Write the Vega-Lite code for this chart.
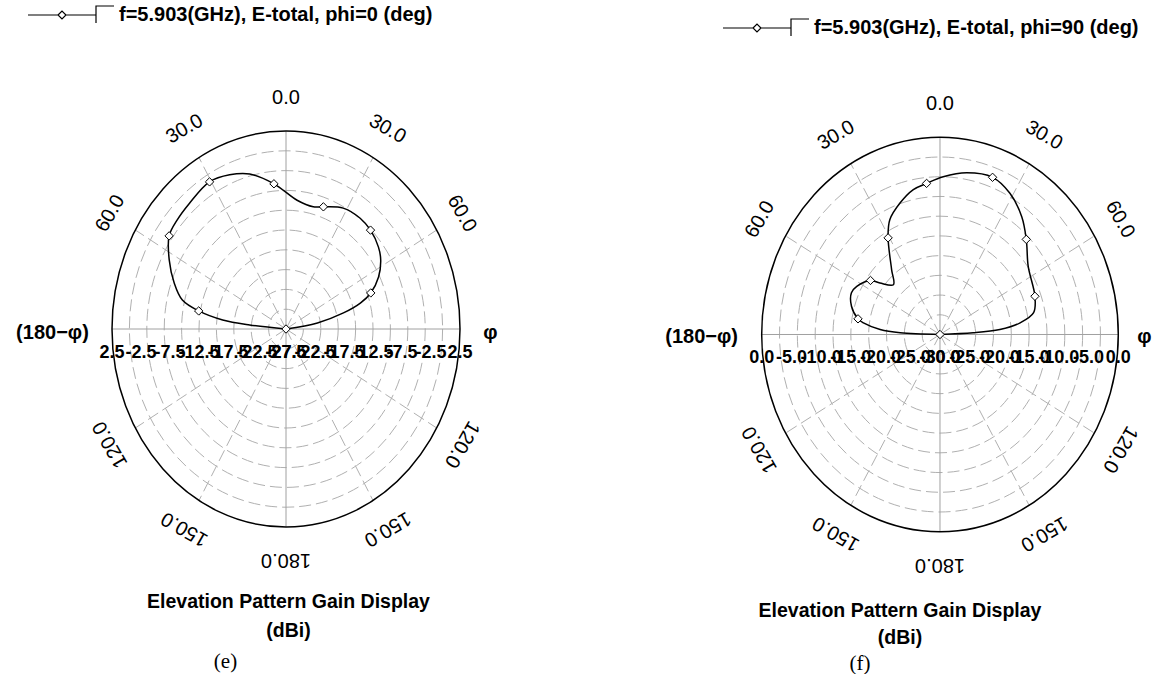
{
  "$schema": "https://vega.github.io/schema/vega-lite/v6.json",
  "padding": 0,
  "spacing": 0,
  "background": "white",
  "config": {"view": {"stroke": null}, "font": "Liberation Sans"},
  "resolve": {"scale": {"color": "independent", "size": "independent"}, "legend": {"color": "independent"}},
  "datasets": {
    "rings": [{"r": 3}, {"r": 6}, {"r": 9}, {"r": 12}, {"r": 15}, {"r": 18}, {"r": 21}, {"r": 24}, {"r": 27}],
    "outer": [{"r": 30}],
    "spokes": [{"a": 30}, {"a": 60}, {"a": 120}, {"a": 150}, {"a": 210}, {"a": 240}, {"a": 300}, {"a": 330}],
    "mainaxes": [{"a": 0}, {"a": 90}, {"a": 180}, {"a": 270}],
    "angles": [{"a": 0, "t": "0.0"}, {"a": 30, "t": "30.0"}, {"a": 60, "t": "60.0"}, {"a": 120, "t": "120.0"}, {"a": 150, "t": "150.0"}, {"a": 180, "t": "180.0"}, {"a": 210, "t": "150.0"}, {"a": 240, "t": "120.0"}, {"a": 300, "t": "60.0"}, {"a": 330, "t": "30.0"}],
    "phiRight": [{"t": "φ", "px": 34}],
    "phiLeft": [{"t": "(180−φ)", "px": -34}],
    "labelsE": [{"v": 2.5, "t": "2.5"}, {"v": -2.5, "t": "-2.5"}, {"v": -7.5, "t": "-7.5"}, {"v": -12.5, "t": "-12.5"}, {"v": -17.5, "t": "-17.5"}, {"v": -22.5, "t": "-22.5"}, {"v": -27.5, "t": "-27.5"}],
    "labelsF": [{"v": 0, "t": "0.0"}, {"v": -5, "t": "-5.0"}, {"v": -10, "t": "-10.0"}, {"v": -15, "t": "-15.0"}, {"v": -20, "t": "-20.0"}, {"v": -25, "t": "-25.0"}, {"v": -30, "t": "-30.0"}],
    "curveE": [
      {"angle": -90, "gain": -27.5}, {"angle": -84.4, "gain": -21.2}, {"angle": -82.9, "gain": -16.5}, {"angle": -79.7, "gain": -12.2},
      {"angle": -76.2, "gain": -9.1}, {"angle": -70.1, "gain": -7.0}, {"angle": -62.5, "gain": -4.8}, {"angle": -55.0, "gain": -2.9},
      {"angle": -48.6, "gain": -2.5}, {"angle": -41.1, "gain": -2.2}, {"angle": -30.6, "gain": -1.6}, {"angle": -22.6, "gain": -2.2},
      {"angle": -14.9, "gain": -3.2}, {"angle": -5.4, "gain": -5.4}, {"angle": 5.6, "gain": -7.9}, {"angle": 14.2, "gain": -8.4},
      {"angle": 19.2, "gain": -7.9}, {"angle": 28.3, "gain": -6.7}, {"angle": 37.3, "gain": -6.4}, {"angle": 44.2, "gain": -6.6},
      {"angle": 52.1, "gain": -7.3}, {"angle": 57.3, "gain": -8.1}, {"angle": 63.7, "gain": -9.7}, {"angle": 69.5, "gain": -11.9},
      {"angle": 73.0, "gain": -14.1}, {"angle": 76.2, "gain": -17.3}, {"angle": 80.4, "gain": -22.0}, {"angle": 90, "gain": -27.5}
    ],
    "markersE": [
      {"angle": -79.7, "gain": -12.2}, {"angle": -55.0, "gain": -2.9}, {"angle": -30.6, "gain": -1.6}, {"angle": -5.4, "gain": -5.4},
      {"angle": 19.2, "gain": -7.9}, {"angle": 44.2, "gain": -6.6}, {"angle": 69.5, "gain": -11.9}, {"angle": 95, "gain": -27.5}
    ],
    "curveF": [
      {"angle": -90, "gain": -30}, {"angle": -87.8, "gain": -23.3}, {"angle": -85.7, "gain": -19.9}, {"angle": -82.2, "gain": -17.0},
      {"angle": -80.2, "gain": -16.0}, {"angle": -73.9, "gain": -14.5}, {"angle": -66.9, "gain": -13.8}, {"angle": -62.4, "gain": -14.2},
      {"angle": -54.9, "gain": -15.7}, {"angle": -52.2, "gain": -17.2}, {"angle": -46.0, "gain": -19.1}, {"angle": -39.5, "gain": -17.2},
      {"angle": -30.7, "gain": -12.9}, {"angle": -25.8, "gain": -10.6}, {"angle": -18.6, "gain": -8.9}, {"angle": -11.5, "gain": -7.5},
      {"angle": -5.6, "gain": -6.9}, {"angle": 1.3, "gain": -6.0}, {"angle": 10.4, "gain": -5.0}, {"angle": 20.3, "gain": -4.5},
      {"angle": 28.7, "gain": -5.5}, {"angle": 37.5, "gain": -7.4}, {"angle": 45.1, "gain": -9.5}, {"angle": 55.1, "gain": -11.9},
      {"angle": 70.0, "gain": -13.0}, {"angle": 78.1, "gain": -13.9}, {"angle": 82.5, "gain": -16.4}, {"angle": 85.7, "gain": -19.9},
      {"angle": 87.4, "gain": -24.4}, {"angle": 90, "gain": -30}
    ],
    "markersF": [
      {"angle": -80.2, "gain": -16.0}, {"angle": -54.9, "gain": -15.7}, {"angle": -30.7, "gain": -12.9}, {"angle": -5.6, "gain": -6.9},
      {"angle": 20.3, "gain": -4.5}, {"angle": 45.1, "gain": -9.5}, {"angle": 70.0, "gain": -13.0}, {"angle": 95, "gain": -30}
    ]
  },
  "hconcat": [
    {
      "title": {"text": "(e)", "orient": "bottom", "anchor": "middle", "dx": -63, "offset": 10, "font": "Liberation Serif", "fontSize": 21, "fontWeight": "normal", "color": "black"},
      "vconcat": [
        {
          "width": 577,
          "height": 580,
          "title": {"text": ["Elevation Pattern Gain Display", "(dBi)"], "orient": "bottom", "anchor": "middle", "offset": 13, "font": "Liberation Sans", "fontSize": 19.5, "fontWeight": "bold", "lineHeight": 29, "color": "black"},
          "layer": [
            {
              "data": {"name": "rings"},
              "transform": [{"calculate": "0*datum.r", "as": "cx"}],
              "mark": {"type": "point", "shape": "M 1 0 C 1 0.6285 0.5523 1.1379 0 1.1379 C -0.5523 1.1379 -1 0.6285 -1 0 C -1 -0.6285 -0.5523 -1.1379 0 -1.1379 C 0.5523 -1.1379 1 -0.6285 1 0 Z", "filled": false, "color": "#b0b0b0", "strokeWidth": 1, "strokeDash": [12, 5], "opacity": 1},
              "encoding": {
                "x": {"field": "cx", "type": "quantitative", "scale": {"domain": [-49.31, 50.17], "nice": false, "zero": false}, "axis": null},
                "y": {"field": "cx", "type": "quantitative", "scale": {"domain": [-38.03, 49.85], "nice": false, "zero": false}, "axis": null},
                "size": {"field": "r", "type": "quantitative", "scale": {"type": "pow", "exponent": 2, "domain": [0, 30], "range": [0, 121104]}, "legend": null}
              }
            },
            {
              "data": {"name": "spokes"},
              "transform": [{"calculate": "0*datum.a", "as": "cx"}, {"calculate": "30*sin(datum.a*PI/180)", "as": "ex"}, {"calculate": "30*cos(datum.a*PI/180)", "as": "ey"}],
              "mark": {"type": "rule", "color": "#b0b0b0", "strokeWidth": 1, "strokeDash": [12, 5]},
              "encoding": {
                "x": {"field": "cx", "type": "quantitative", "scale": {"domain": [-49.31, 50.17], "nice": false, "zero": false}, "axis": null},
                "y": {"field": "cx", "type": "quantitative", "scale": {"domain": [-38.03, 49.85], "nice": false, "zero": false}, "axis": null},
                "x2": {"field": "ex"}, "y2": {"field": "ey"}
              }
            },
            {
              "data": {"name": "mainaxes"},
              "transform": [{"calculate": "0*datum.a", "as": "cx"}, {"calculate": "30*sin(datum.a*PI/180)", "as": "ex"}, {"calculate": "30*cos(datum.a*PI/180)", "as": "ey"}],
              "mark": {"type": "rule", "color": "#a0a0a0", "strokeWidth": 1},
              "encoding": {
                "x": {"field": "cx", "type": "quantitative", "scale": {"domain": [-49.31, 50.17], "nice": false, "zero": false}, "axis": null},
                "y": {"field": "cx", "type": "quantitative", "scale": {"domain": [-38.03, 49.85], "nice": false, "zero": false}, "axis": null},
                "x2": {"field": "ex"}, "y2": {"field": "ey"}
              }
            },
            {
              "data": {"name": "outer"},
              "transform": [{"calculate": "0*datum.r", "as": "cx"}],
              "mark": {"type": "point", "shape": "M 1 0 C 1 0.6285 0.5523 1.1379 0 1.1379 C -0.5523 1.1379 -1 0.6285 -1 0 C -1 -0.6285 -0.5523 -1.1379 0 -1.1379 C 0.5523 -1.1379 1 -0.6285 1 0 Z", "filled": false, "color": "black", "strokeWidth": 1.5, "opacity": 1},
              "encoding": {
                "x": {"field": "cx", "type": "quantitative", "scale": {"domain": [-49.31, 50.17], "nice": false, "zero": false}, "axis": null},
                "y": {"field": "cx", "type": "quantitative", "scale": {"domain": [-38.03, 49.85], "nice": false, "zero": false}, "axis": null},
                "size": {"field": "r", "type": "quantitative", "scale": {"type": "pow", "exponent": 2, "domain": [0, 30], "range": [0, 121104]}, "legend": null}
              }
            },
            {
              "data": {"name": "curveE"},
              "transform": [{"calculate": "max(0, datum.gain + 27.5)", "as": "rr"}, {"calculate": "datum.rr*sin(datum.angle*PI/180)", "as": "px"}, {"calculate": "datum.rr*cos(datum.angle*PI/180)", "as": "py"}, {"calculate": "'f=5.903(GHz), E-total, phi=0 (deg)'", "as": "series"}],
              "mark": {"type": "line", "interpolate": "catmull-rom", "strokeWidth": 1.5},
              "encoding": {
                "x": {"field": "px", "type": "quantitative", "scale": {"domain": [-49.31, 50.17], "nice": false, "zero": false}, "axis": null},
                "y": {"field": "py", "type": "quantitative", "scale": {"domain": [-38.03, 49.85], "nice": false, "zero": false}, "axis": null},
                "order": {"field": "angle", "type": "quantitative"},
                "color": {"field": "series", "type": "nominal", "scale": {"range": ["black"]},
                  "legend": {"orient": "none", "legendX": 97, "legendY": 5, "title": null, "padding": 0,
                    "symbolType": "M -79 0 L -49 0 M -41 0 L -11 0 M -49 0 L -45 -4 L -41 0 L -45 4 Z M -11 8 L -11 -9 L 7 -9",
                    "symbolSize": 4, "symbolStrokeWidth": 1.2, "symbolStrokeColor": "black", "symbolFillColor": "white",
                    "labelFont": "Liberation Sans", "labelFontWeight": "bold", "labelFontSize": 20, "labelColor": "black", "labelOffset": 2, "labelLimit": 700}}
              }
            },
            {
              "data": {"name": "markersE"},
              "transform": [{"calculate": "max(0, datum.gain + 27.5)", "as": "rr"}, {"calculate": "datum.rr*sin(datum.angle*PI/180)", "as": "px"}, {"calculate": "datum.rr*cos(datum.angle*PI/180)", "as": "py"}],
              "mark": {"type": "point", "shape": "diamond", "filled": true, "fill": "white", "stroke": "black", "strokeWidth": 1, "size": 70, "opacity": 1},
              "encoding": {
                "x": {"field": "px", "type": "quantitative", "scale": {"domain": [-49.31, 50.17], "nice": false, "zero": false}, "axis": null},
                "y": {"field": "py", "type": "quantitative", "scale": {"domain": [-38.03, 49.85], "nice": false, "zero": false}, "axis": null}
              }
            },
            {
              "data": {"name": "labelsE"},
              "transform": [{"calculate": "-(datum.v + 27.5)", "as": "lx"}, {"calculate": "0*datum.v", "as": "cy"}],
              "mark": {"type": "text", "font": "Liberation Sans", "fontWeight": "bold", "fontSize": 18, "align": "center", "baseline": "middle", "dy": 24, "color": "black"},
              "encoding": {
                "x": {"field": "lx", "type": "quantitative", "scale": {"domain": [-49.31, 50.17], "nice": false, "zero": false}, "axis": null},
                "y": {"field": "cy", "type": "quantitative", "scale": {"domain": [-38.03, 49.85], "nice": false, "zero": false}, "axis": null},
                "text": {"field": "t", "type": "nominal"}
              }
            },
            {
              "data": {"name": "labelsE"},
              "transform": [{"calculate": "datum.v + 27.5", "as": "lx"}, {"calculate": "0*datum.v", "as": "cy"}],
              "mark": {"type": "text", "font": "Liberation Sans", "fontWeight": "bold", "fontSize": 18, "align": "center", "baseline": "middle", "dy": 24, "color": "black"},
              "encoding": {
                "x": {"field": "lx", "type": "quantitative", "scale": {"domain": [-49.31, 50.17], "nice": false, "zero": false}, "axis": null},
                "y": {"field": "cy", "type": "quantitative", "scale": {"domain": [-38.03, 49.85], "nice": false, "zero": false}, "axis": null},
                "text": {"field": "t", "type": "nominal"}
              }
            },
            {
              "data": {"name": "angles"},
              "transform": [{"calculate": "35*sin(datum.a*PI/180)", "as": "lx"}, {"calculate": "35*cos(datum.a*PI/180)", "as": "ly"}],
              "mark": {"type": "text", "font": "Liberation Sans", "fontSize": 20, "align": "center", "baseline": "middle", "color": "black"},
              "encoding": {
                "x": {"field": "lx", "type": "quantitative", "scale": {"domain": [-49.31, 50.17], "nice": false, "zero": false}, "axis": null},
                "y": {"field": "ly", "type": "quantitative", "scale": {"domain": [-38.03, 49.85], "nice": false, "zero": false}, "axis": null},
                "angle": {"field": "a", "type": "quantitative", "scale": {"domain": [0, 360], "range": [0, 360], "zero": false, "nice": false}, "legend": null},
                "text": {"field": "t", "type": "nominal"}
              }
            },
            {
              "data": {"name": "phiRight"},
              "transform": [{"calculate": "0*datum.px", "as": "cy"}],
              "mark": {"type": "text", "font": "Liberation Sans", "fontWeight": "bold", "fontSize": 20, "align": "left", "baseline": "middle", "dy": 4, "color": "black"},
              "encoding": {
                "x": {"field": "px", "type": "quantitative", "scale": {"domain": [-49.31, 50.17], "nice": false, "zero": false}, "axis": null},
                "y": {"field": "cy", "type": "quantitative", "scale": {"domain": [-38.03, 49.85], "nice": false, "zero": false}, "axis": null},
                "text": {"field": "t", "type": "nominal"}
              }
            },
            {
              "data": {"name": "phiLeft"},
              "transform": [{"calculate": "0*datum.px", "as": "cy"}],
              "mark": {"type": "text", "font": "Liberation Sans", "fontWeight": "bold", "fontSize": 20, "align": "right", "baseline": "middle", "dy": 4, "color": "black"},
              "encoding": {
                "x": {"field": "px", "type": "quantitative", "scale": {"domain": [-49.31, 50.17], "nice": false, "zero": false}, "axis": null},
                "y": {"field": "cy", "type": "quantitative", "scale": {"domain": [-38.03, 49.85], "nice": false, "zero": false}, "axis": null},
                "text": {"field": "t", "type": "nominal"}
              }
            }
          ]
        }
      ]
    },
    {
      "title": {"text": "(f)", "orient": "bottom", "anchor": "middle", "dx": -6, "offset": 5, "font": "Liberation Serif", "fontSize": 21, "fontWeight": "normal", "color": "black"},
      "vconcat": [
        {
          "width": 578,
          "height": 580,
          "title": {"text": ["Elevation Pattern Gain Display", "(dBi)"], "orient": "bottom", "anchor": "middle", "dx": 34, "offset": 22, "font": "Liberation Sans", "fontSize": 19.5, "fontWeight": "bold", "lineHeight": 27, "color": "black"},
          "layer": [
            {
              "data": {"name": "rings"},
              "transform": [{"calculate": "0*datum.r", "as": "cx"}],
              "mark": {"type": "point", "shape": "M 1 0 C 1 0.6108 0.5523 1.106 0 1.106 C -0.5523 1.106 -1 0.6108 -1 0 C -1 -0.6108 -0.5523 -1.106 0 -1.106 C 0.5523 -1.106 1 -0.6108 1 0 Z", "filled": false, "color": "#b0b0b0", "strokeWidth": 1, "strokeDash": [12, 5], "opacity": 1},
              "encoding": {
                "x": {"field": "cx", "type": "quantitative", "scale": {"domain": [-61.08, 36.18], "nice": false, "zero": false}, "axis": null},
                "y": {"field": "cx", "type": "quantitative", "scale": {"domain": [-37.35, 50.89], "nice": false, "zero": false}, "axis": null},
                "size": {"field": "r", "type": "quantitative", "scale": {"type": "pow", "exponent": 2, "domain": [0, 30], "range": [0, 127164]}, "legend": null}
              }
            },
            {
              "data": {"name": "spokes"},
              "transform": [{"calculate": "0*datum.a", "as": "cx"}, {"calculate": "30*sin(datum.a*PI/180)", "as": "ex"}, {"calculate": "30*cos(datum.a*PI/180)", "as": "ey"}],
              "mark": {"type": "rule", "color": "#b0b0b0", "strokeWidth": 1, "strokeDash": [12, 5]},
              "encoding": {
                "x": {"field": "cx", "type": "quantitative", "scale": {"domain": [-61.08, 36.18], "nice": false, "zero": false}, "axis": null},
                "y": {"field": "cx", "type": "quantitative", "scale": {"domain": [-37.35, 50.89], "nice": false, "zero": false}, "axis": null},
                "x2": {"field": "ex"}, "y2": {"field": "ey"}
              }
            },
            {
              "data": {"name": "mainaxes"},
              "transform": [{"calculate": "0*datum.a", "as": "cx"}, {"calculate": "30*sin(datum.a*PI/180)", "as": "ex"}, {"calculate": "30*cos(datum.a*PI/180)", "as": "ey"}],
              "mark": {"type": "rule", "color": "#a0a0a0", "strokeWidth": 1},
              "encoding": {
                "x": {"field": "cx", "type": "quantitative", "scale": {"domain": [-61.08, 36.18], "nice": false, "zero": false}, "axis": null},
                "y": {"field": "cx", "type": "quantitative", "scale": {"domain": [-37.35, 50.89], "nice": false, "zero": false}, "axis": null},
                "x2": {"field": "ex"}, "y2": {"field": "ey"}
              }
            },
            {
              "data": {"name": "outer"},
              "transform": [{"calculate": "0*datum.r", "as": "cx"}],
              "mark": {"type": "point", "shape": "M 1 0 C 1 0.6108 0.5523 1.106 0 1.106 C -0.5523 1.106 -1 0.6108 -1 0 C -1 -0.6108 -0.5523 -1.106 0 -1.106 C 0.5523 -1.106 1 -0.6108 1 0 Z", "filled": false, "color": "black", "strokeWidth": 1.5, "opacity": 1},
              "encoding": {
                "x": {"field": "cx", "type": "quantitative", "scale": {"domain": [-61.08, 36.18], "nice": false, "zero": false}, "axis": null},
                "y": {"field": "cx", "type": "quantitative", "scale": {"domain": [-37.35, 50.89], "nice": false, "zero": false}, "axis": null},
                "size": {"field": "r", "type": "quantitative", "scale": {"type": "pow", "exponent": 2, "domain": [0, 30], "range": [0, 127164]}, "legend": null}
              }
            },
            {
              "data": {"name": "curveF"},
              "transform": [{"calculate": "max(0, datum.gain + 30)", "as": "rr"}, {"calculate": "datum.rr*sin(datum.angle*PI/180)", "as": "px"}, {"calculate": "datum.rr*cos(datum.angle*PI/180)", "as": "py"}, {"calculate": "'f=5.903(GHz), E-total, phi=90 (deg)'", "as": "series"}],
              "mark": {"type": "line", "interpolate": "catmull-rom", "strokeWidth": 1.5},
              "encoding": {
                "x": {"field": "px", "type": "quantitative", "scale": {"domain": [-61.08, 36.18], "nice": false, "zero": false}, "axis": null},
                "y": {"field": "py", "type": "quantitative", "scale": {"domain": [-37.35, 50.89], "nice": false, "zero": false}, "axis": null},
                "order": {"field": "angle", "type": "quantitative"},
                "color": {"field": "series", "type": "nominal", "scale": {"range": ["black"]},
                  "legend": {"orient": "none", "legendX": 215, "legendY": 18, "title": null, "padding": 0,
                    "symbolType": "M -79 0 L -49 0 M -41 0 L -11 0 M -49 0 L -45 -4 L -41 0 L -45 4 Z M -11 8 L -11 -9 L 7 -9",
                    "symbolSize": 4, "symbolStrokeWidth": 1.2, "symbolStrokeColor": "black", "symbolFillColor": "white",
                    "labelFont": "Liberation Sans", "labelFontWeight": "bold", "labelFontSize": 20, "labelColor": "black", "labelOffset": 2, "labelLimit": 700}}
              }
            },
            {
              "data": {"name": "markersF"},
              "transform": [{"calculate": "max(0, datum.gain + 30)", "as": "rr"}, {"calculate": "datum.rr*sin(datum.angle*PI/180)", "as": "px"}, {"calculate": "datum.rr*cos(datum.angle*PI/180)", "as": "py"}],
              "mark": {"type": "point", "shape": "diamond", "filled": true, "fill": "white", "stroke": "black", "strokeWidth": 1, "size": 70, "opacity": 1},
              "encoding": {
                "x": {"field": "px", "type": "quantitative", "scale": {"domain": [-61.08, 36.18], "nice": false, "zero": false}, "axis": null},
                "y": {"field": "py", "type": "quantitative", "scale": {"domain": [-37.35, 50.89], "nice": false, "zero": false}, "axis": null}
              }
            },
            {
              "data": {"name": "labelsF"},
              "transform": [{"calculate": "-(datum.v + 30)", "as": "lx"}, {"calculate": "0*datum.v", "as": "cy"}],
              "mark": {"type": "text", "font": "Liberation Sans", "fontWeight": "bold", "fontSize": 18, "align": "center", "baseline": "middle", "dy": 24, "color": "black"},
              "encoding": {
                "x": {"field": "lx", "type": "quantitative", "scale": {"domain": [-61.08, 36.18], "nice": false, "zero": false}, "axis": null},
                "y": {"field": "cy", "type": "quantitative", "scale": {"domain": [-37.35, 50.89], "nice": false, "zero": false}, "axis": null},
                "text": {"field": "t", "type": "nominal"}
              }
            },
            {
              "data": {"name": "labelsF"},
              "transform": [{"calculate": "datum.v + 30", "as": "lx"}, {"calculate": "0*datum.v", "as": "cy"}],
              "mark": {"type": "text", "font": "Liberation Sans", "fontWeight": "bold", "fontSize": 18, "align": "center", "baseline": "middle", "dy": 24, "color": "black"},
              "encoding": {
                "x": {"field": "lx", "type": "quantitative", "scale": {"domain": [-61.08, 36.18], "nice": false, "zero": false}, "axis": null},
                "y": {"field": "cy", "type": "quantitative", "scale": {"domain": [-37.35, 50.89], "nice": false, "zero": false}, "axis": null},
                "text": {"field": "t", "type": "nominal"}
              }
            },
            {
              "data": {"name": "angles"},
              "transform": [{"calculate": "35*sin(datum.a*PI/180)", "as": "lx"}, {"calculate": "35*cos(datum.a*PI/180)", "as": "ly"}],
              "mark": {"type": "text", "font": "Liberation Sans", "fontSize": 20, "align": "center", "baseline": "middle", "color": "black"},
              "encoding": {
                "x": {"field": "lx", "type": "quantitative", "scale": {"domain": [-61.08, 36.18], "nice": false, "zero": false}, "axis": null},
                "y": {"field": "ly", "type": "quantitative", "scale": {"domain": [-37.35, 50.89], "nice": false, "zero": false}, "axis": null},
                "angle": {"field": "a", "type": "quantitative", "scale": {"domain": [0, 360], "range": [0, 360], "zero": false, "nice": false}, "legend": null},
                "text": {"field": "t", "type": "nominal"}
              }
            },
            {
              "data": {"name": "phiRight"},
              "transform": [{"calculate": "0*datum.px", "as": "cy"}, {"calculate": "datum.px - 0.8", "as": "pxr"}],
              "mark": {"type": "text", "font": "Liberation Sans", "fontWeight": "bold", "fontSize": 20, "align": "left", "baseline": "middle", "dy": 3, "color": "black"},
              "encoding": {
                "x": {"field": "pxr", "type": "quantitative", "scale": {"domain": [-61.08, 36.18], "nice": false, "zero": false}, "axis": null},
                "y": {"field": "cy", "type": "quantitative", "scale": {"domain": [-37.35, 50.89], "nice": false, "zero": false}, "axis": null},
                "text": {"field": "t", "type": "nominal"}
              }
            },
            {
              "data": {"name": "phiLeft"},
              "transform": [{"calculate": "0*datum.px", "as": "cy"}],
              "mark": {"type": "text", "font": "Liberation Sans", "fontWeight": "bold", "fontSize": 20, "align": "right", "baseline": "middle", "dy": 3, "color": "black"},
              "encoding": {
                "x": {"field": "px", "type": "quantitative", "scale": {"domain": [-61.08, 36.18], "nice": false, "zero": false}, "axis": null},
                "y": {"field": "cy", "type": "quantitative", "scale": {"domain": [-37.35, 50.89], "nice": false, "zero": false}, "axis": null},
                "text": {"field": "t", "type": "nominal"}
              }
            }
          ]
        }
      ]
    }
  ]
}
